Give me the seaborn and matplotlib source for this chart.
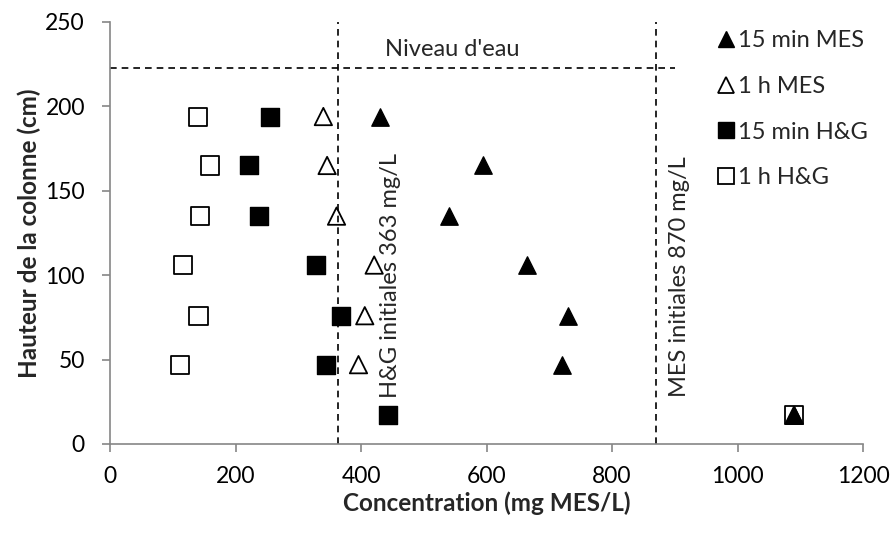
import matplotlib
matplotlib.use("Agg")
import matplotlib.pyplot as plt
from matplotlib.lines import Line2D
import seaborn as sns

# Column heights (cm) of the sampling ports
heights = [194, 165, 135, 106, 76, 47, 17]

# Concentrations (mg/L) per series, top port first
mes_15min = [430, 595, 540, 665, 730, 720, 1090]
mes_1h = [340, 346, 361, 421, 406, 396, 1090]
hg_15min = [255, 222, 238, 328, 368, 345, 443]
hg_1h = [140, 159, 144, 117, 141, 112, 1090]

series_labels = ["15 min MES", "1 h MES", "15 min H&G", "1 h H&G"]

hg_initial = 363
mes_initial = 870
water_level = 223

sns.set_theme(style="white")
plt.rcParams["font.family"] = ["Lato", "DejaVu Sans"]

fig = plt.figure(figsize=(8.92, 5.35), dpi=100)
ax = fig.add_axes([110 / 892, 1 - 444 / 535, (863 - 110) / 892, (444 - 22) / 535])

tri_ms = 12.5
sq_ms = 13

# reference lines
ax.axvline(hg_initial, color="black", lw=1.2, ls=(0, (4, 3)), zorder=1)
ax.axvline(mes_initial, color="black", lw=1.2, ls=(0, (4, 3)), zorder=1)
ax.plot([0, 900], [water_level, water_level], color="black", lw=1.2,
        ls=(0, (4, 3)), zorder=1)

sns.scatterplot(x=mes_15min, y=heights, marker="^", s=tri_ms ** 2,
                color="black", edgecolor="black", linewidth=1, ax=ax, zorder=3)
sns.scatterplot(x=mes_1h, y=heights, marker="^", s=tri_ms ** 2,
                facecolor="none", edgecolor="black", linewidth=1.3, ax=ax, zorder=3)
sns.scatterplot(x=hg_15min, y=heights, marker="s", s=sq_ms ** 2,
                color="black", edgecolor="black", linewidth=1, ax=ax, zorder=3)
sns.scatterplot(x=hg_1h, y=heights, marker="s", s=sq_ms ** 2,
                facecolor="none", edgecolor="black", linewidth=1.3, ax=ax, zorder=3)

fs_tick = 16.5
fs = 17
fs_label = 17.5
ax.text(545, 234, "Niveau d'eau", ha="center", va="center", fontsize=fs)
ax.text(447, 100, "H&G initiales 363 mg/L", rotation=90, ha="center",
        va="center", fontsize=fs)
ax.text(907, 99, "MES initiales 870 mg/L", rotation=90, ha="center",
        va="center", fontsize=fs)

ax.set_xlim(0, 1200)
ax.set_ylim(0, 250)
ax.set_xticks(range(0, 1201, 200))
ax.set_yticks(range(0, 251, 50))
ax.tick_params(axis="both", labelsize=fs_tick, colors="black", length=6,
               width=1.2, color="#868686", direction="out")
ax.tick_params(axis="y", pad=12)
ax.tick_params(axis="x", pad=10)
ax.xaxis.set_ticks_position("bottom")
ax.yaxis.set_ticks_position("left")

for side in ["top", "right"]:
    ax.spines[side].set_visible(False)
for side in ["left", "bottom"]:
    ax.spines[side].set_color("#868686")
    ax.spines[side].set_linewidth(1.2)

ax.set_xlabel("Concentration (mg MES/L)", fontsize=fs_label, fontweight="bold", labelpad=3)
ax.set_ylabel("Hauteur de la colonne (cm)", fontsize=fs_label, fontweight="bold", labelpad=3)

handles = [
    Line2D([], [], ls="", marker="^", ms=11, color="black"),
    Line2D([], [], ls="", marker="^", ms=11, mfc="none", mec="black", mew=1.3),
    Line2D([], [], ls="", marker="s", ms=12, color="black"),
    Line2D([], [], ls="", marker="s", ms=12, mfc="none", mec="black", mew=1.3),
]
fig.legend(handles, series_labels, loc="upper left",
           bbox_to_anchor=(718 / 892, 1 - 30 / 535), frameon=False,
           fontsize=fs, handlelength=0.7, handletextpad=0.15,
           labelspacing=1.05, borderaxespad=0, borderpad=0)

fig.savefig("out.png", dpi=100)
